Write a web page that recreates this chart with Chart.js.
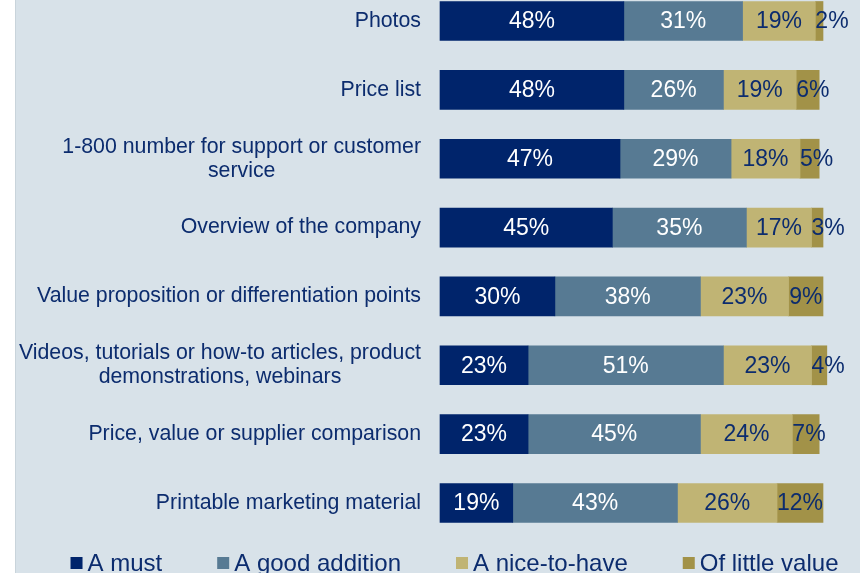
<!DOCTYPE html>
<html>
<head>
<meta charset="utf-8">
<script src="https://cdn.jsdelivr.net/npm/chart.js@4"></script>
<style>
  html, body { margin: 0; padding: 0; background: #fff; }
  #wrap { width: 860px; height: 573px; }
</style>
</head>
<body>
<div id="wrap"><canvas id="chart" width="860" height="573"></canvas></div>
<script>
// --- data ---
const categories = [
    ['Photos'],
    ['Price list'],
    ['1-800 number for support or customer', 'service'],
    ['Overview of the company'],
    ['Value proposition or differentiation points'],
    ['Videos, tutorials or how-to articles, product', 'demonstrations, webinars'],
    ['Price, value or supplier comparison'],
    ['Printable marketing material']
];
const seriesNames = ['A must', 'A good addition', 'A nice-to-have', 'Of little value'];
const mustValues = [48, 48, 47, 45, 30, 23, 23, 19];
const goodValues = [31, 26, 29, 35, 38, 51, 45, 43];
const niceValues = [19, 19, 18, 17, 23, 23, 24, 26];
const littleValues = [2, 6, 5, 3, 9, 4, 7, 12];

const seriesColors = ['#00246b', '#577a93', '#c0b474', '#a29248'];
const valueTextColors = ['#ffffff', '#ffffff', '#0c2c6e', '#0c2c6e'];
const textColor = '#0c2c6e';
const panelColor = '#d8e2e9';
const fontFamily = '"Liberation Sans", Arial, sans-serif';

const seriesValues = [mustValues, goodValues, niceValues, littleValues];

// panel background behind everything
const panelPlugin = {
    id: 'panel',
    beforeDraw(chart) {
        const ctx = chart.ctx;
        ctx.save();
        ctx.fillStyle = '#ffffff';
        ctx.fillRect(0, 0, chart.width, chart.height);
        ctx.fillStyle = panelColor;
        ctx.fillRect(15, 0, chart.width - 15, chart.height);
        ctx.fillStyle = '#c9d4db';
        ctx.fillRect(15, 0, 1, chart.height);
        ctx.restore();
    }
};

// percentage labels inside the bars
const valueLabelPlugin = {
    id: 'valueLabels',
    afterDatasetsDraw(chart) {
        const ctx = chart.ctx;
        ctx.save();
        ctx.font = '23px ' + fontFamily;
        ctx.textBaseline = 'middle';
        ctx.textAlign = 'left';
        chart.data.datasets.forEach((ds, di) => {
            const meta = chart.getDatasetMeta(di);
            ctx.fillStyle = valueTextColors[di];
            meta.data.forEach((bar, i) => {
                const txt = ds.data[i] + '%';
                const w = ctx.measureText(txt).width;
                const start = Math.min(bar.base, bar.x);
                const center = (bar.base + bar.x) / 2;
                const left = Math.max(center - w / 2, start);
                ctx.fillText(txt, left, bar.y + 1);
            });
        });
        ctx.restore();
    }
};

// category labels (centered lines, right aligned block) and legend
const labelsPlugin = {
    id: 'catLabels',
    afterDraw(chart) {
        const ctx = chart.ctx;
        const yScale = chart.scales.y;
        const labelRight = 421;
        const lineHeight = 24;
        ctx.save();
        ctx.font = '21.3px ' + fontFamily;
        ctx.fillStyle = textColor;
        ctx.textBaseline = 'middle';
        ctx.textAlign = 'center';
        categories.forEach((lines, i) => {
            const y = yScale.getPixelForValue(i);
            const widest = Math.max(...lines.map(l => ctx.measureText(l).width));
            const cx = labelRight - widest / 2;
            lines.forEach((line, k) => {
                ctx.fillText(line, cx, y + (k - (lines.length - 1) / 2) * lineHeight);
            });
        });

        // legend
        ctx.font = '24px ' + fontFamily;
        ctx.textAlign = 'left';
        const box = 12, textGap = 5, itemGap = 55;
        const widths = seriesNames.map(n => box + textGap + ctx.measureText(n).width);
        const total = widths.reduce((a, b) => a + b, 0) + itemGap * (seriesNames.length - 1);
        let x = 454.5 - total / 2;
        const ly = 563;
        seriesNames.forEach((name, i) => {
            ctx.fillStyle = seriesColors[i];
            ctx.fillRect(x, ly - box / 2, box, box);
            ctx.fillStyle = textColor;
            ctx.fillText(name, x + box + textGap, ly + 1);
            x += widths[i] + itemGap;
        });
        ctx.restore();
    }
};

const ctx = document.getElementById('chart').getContext('2d');
new Chart(ctx, {
    type: 'bar',
    data: {
        labels: categories,
        datasets: seriesNames.map((name, i) => ({
            label: name,
            data: seriesValues[i],
            backgroundColor: seriesColors[i],
            borderWidth: 0,
            barThickness: 39,
            clip: false
        }))
    },
    options: {
        indexAxis: 'y',
        responsive: false,
        animation: false,
        events: [],
        layout: { padding: { left: 440, right: 37, top: 21, bottom: 70 } },
        plugins: {
            legend: { display: false },
            tooltip: { enabled: false }
        },
        scales: {
            x: {
                stacked: true,
                min: 0,
                max: 100,
                display: false
            },
            y: {
                stacked: true,
                offset: false,
                display: false
            }
        }
    },
    plugins: [panelPlugin, valueLabelPlugin, labelsPlugin]
});
</script>
</body>
</html>
